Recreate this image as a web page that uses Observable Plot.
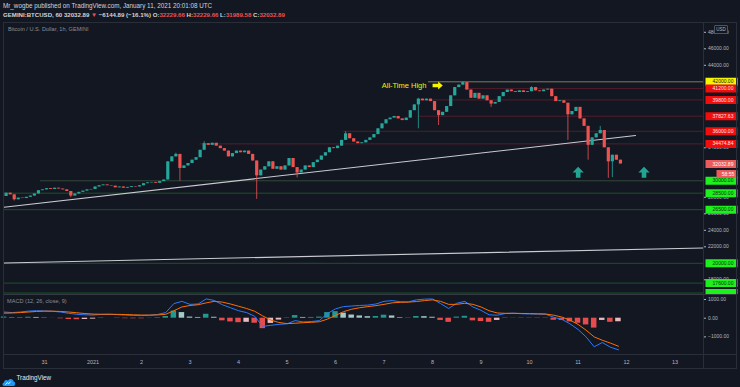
<!DOCTYPE html>
<html><head><meta charset="utf-8">
<script src="https://cdn.jsdelivr.net/npm/d3@7"></script>
<script src="https://cdn.jsdelivr.net/npm/@observablehq/plot@0.6"></script>
<style>
html,body{margin:0;padding:0;background:#131722;}
#wrap{position:relative;width:740px;height:387px;overflow:hidden;background:#131722;font-family:"Liberation Sans",Arial,sans-serif;}
.t{position:absolute;white-space:nowrap;}
.ln{position:absolute;background:#2a2e39;}
#wrap svg{position:absolute;left:0;overflow:hidden;}
.red{color:#f0514f;}
</style></head><body><div id="wrap"></div>
<script>
// ---------------- DATA ----------------
const publisher = "Mr_wogbe published on TradingView.com, January 11, 2021 20:01:08 UTC";
const symbolTitle = "GEMINI:BTCUSD, 60";
const lastPrice = 32032.89;
const change = "−6144.89 (−16.1%)";
const ohlcKeys = ["O", "H", "L", "C"];
const ohlcVals = [32229.66, 32229.66, 31989.58, 32032.89];
const paneLegend = "Bitcoin / U.S. Dollar, 1h, GEMINI";
const macdLegend = "MACD (12, 26, close, 9)";
const countdown = "58:55";

// 2-hour candles starting 2020-12-30 04:00 UTC (open of first bar, then closes)
const barStart = "2020-12-30T04:00Z";
const firstOpen = 28100;
const closes = [
  28500, 28300, 27700, 27900, 27850, 28000, 28150, 28400, 28800, 28900,
  29050, 28950, 29100, 29000, 28900, 28700, 28150, 28400, 28600, 28750, 28900, 28950,
  29250, 29400, 29500, 29400, 29350, 29150, 29250, 29100, 29200, 29300, 29250, 29400,
  29650, 29750, 29800, 29700, 29900, 30100, 32300, 32900, 33200, 31500, 31800, 32100,
  32500, 32800, 33700, 34500, 34300, 34550, 34200, 33900, 33600, 32900, 33300, 33600,
  33400, 33600, 33200, 32400, 30600, 31300, 31700, 32300, 31400, 31700, 31300, 31800,
  32700, 31600, 30950, 31300, 31800, 31600, 32200, 32500, 33000, 33400, 34000, 33900,
  34200, 34900, 35700, 35100, 34700, 34500, 34600, 34900, 35200, 35600, 36300, 36900,
  37400, 37600, 37800, 37500, 37300, 37600, 38500, 39200, 39900, 39700, 39900, 39600,
  38500, 37900, 38300, 39000, 40300, 41300, 41600, 41900, 41000, 40000, 40600, 39900,
  40300, 39700, 39300, 39500, 40200, 40700, 41000, 40800, 40700, 40900, 40700, 40800,
  41300, 40900, 40800, 41000, 41100, 40200, 39600, 39700, 39400, 38000, 38400, 38900,
  37500, 36600, 34300, 35200, 35700, 36100, 34000, 32300, 33100, 32500, 32032.89
];
// notable wicks: [bar index, low, high]
const wicks = [
  [2, 27550, null], [16, 27950, null], [42, null, 33350], [43, 29950, null],
  [49, null, 34750], [62, 27750, null], [72, 30350, null], [84, null, 35950],
  [102, 36300, 40000], [107, 36700, null], [113, null, 41990], [120, 38900, null],
  [130, null, 41400], [139, 34900, null], [144, 32500, null], [147, null, 36600],
  [149, 30300, null], [150, 30400, null]
];

// horizontal levels drawn on the chart
const levelPrices = [42000, 41200, 39800, 37827.63, 36000, 34474.84, 30000, 28500, 26500, 20000, 17600, 16400];
const levelFrom = ["2021-01-07T22:00Z", "2021-01-08T16:00Z", "2021-01-07T17:00Z", "2021-01-07T17:00Z",
  "2021-01-06T04:00Z", "2021-01-03T05:00Z", "2020-12-30T22:00Z", "2020-12-30T04:00Z",
  "2020-12-30T04:00Z", "2020-12-30T04:00Z", "2020-12-30T04:00Z", "2020-12-30T04:00Z"];
const levelKind = ["ath", "res", "res", "res", "res", "res", "mid", "sup", "sup", "sup", "sup", "sup"];
const levelLabelShown = [true, true, true, true, true, true, true, true, true, true, true, false];

// trendlines [time, price]
const trendNames = ["rising", "long"];
const trendStart = [["2020-12-30T03:54Z", 26800], ["2020-12-30T04:00Z", 20040]];
const trendEnd = [["2021-01-12T04:30Z", 35490], ["2021-01-13T14:00Z", 21860]];

// annotations
const athText = "All-Time High";
const athTextAt = ["2021-01-07T21:00Z", 41520];
const athArrowAt = ["2021-01-08T02:30Z", 41550];
const upArrowsAt = [["2021-01-11T00:05Z", 31010], ["2021-01-12T08:40Z", 31010]];

// price axis ticks (those fully hidden behind level labels are left out)
const priceTicks = [18000, 22000, 24000, 26000, 28000, 34000, 44000, 46000, 48000];
const macdTicks = [-1000, 0, 1000];

// MACD (4-hour steps from 2020-12-30 04:00 UTC)
const macdStart = "2020-12-30T04:00Z";
const macdLine = [
  330, 300, 330, 380, 400, 390, 370, 330, 260, 210, 180, 170, 200, 210, 190, 170,
  150, 140, 160, 200, 300, 780, 900, 740, 760, 1030, 950, 720, 560, 400, 300, 100,
  -440, -380, -330, -300, -130, -200, -180, -130, 250, 500, 620, 650, 680, 700, 760, 900,
  940, 880, 870, 980, 1020, 1030, 780, 520, 800, 900, 600, 420, 180, 160, 250, 270,
  240, 230, 220, 210, 50, -60, -300, -600, -1000, -1530, -1300, -1550, -1690
];
const signalLine = [
  270, 280, 300, 330, 360, 375, 375, 360, 330, 290, 250, 220, 210, 210, 205, 195,
  180, 170, 165, 175, 210, 400, 600, 680, 720, 820, 900, 860, 760, 640, 520, 370,
  120, -100, -230, -290, -270, -240, -220, -190, -50, 150, 350, 480, 560, 620, 670, 740,
  820, 850, 860, 890, 940, 980, 900, 740, 740, 800, 740, 600, 400, 280, 260, 260,
  255, 245, 235, 225, 160, 60, -100, -330, -640, -1000, -1180, -1330, -1500
];

// time axis
const dayTickDates = ["2020-12-31", "2021-01-01", "2021-01-02", "2021-01-03", "2021-01-04", "2021-01-05",
  "2021-01-06", "2021-01-07", "2021-01-08", "2021-01-09", "2021-01-10", "2021-01-11", "2021-01-12", "2021-01-13"];
const dayTickLabels = ["31", "2021", "2", "3", "4", "5", "6", "7", "8", "9", "10", "11", "12", "13"];

// ---------------- BUILD ----------------
const HOUR = 3600e3;
const jan1 = Date.UTC(2021, 0, 1);
const atHour = h => new Date(jan1 + h * HOUR);
const xDomain = [atHour(-44.05), atHour(302.1)];
const up = "#26a69a", down = "#ef5350";

const t0 = new Date(barStart).getTime();
const bars = closes.map((c, i) => {
  const open = i ? closes[i - 1] : firstOpen;
  return {t: new Date(t0 + (i * 2 + 1) * HOUR), open, close: c,
    low: Math.min(open, c), high: Math.max(open, c), col: c >= open ? up : down};
});
wicks.forEach(([i, lo, hi]) => { if (lo != null) bars[i].low = lo; if (hi != null) bars[i].high = hi; });

const kindStyle = {
  ath: {line: "#8a8660", box: "#f5f500", ink: "#131722"},
  res: {line: "#5a1e2a", box: "#f20d0d", ink: "#ffe6e6"},
  mid: {line: "#36503c", box: "#1ef01e", ink: "#0c2a0c"},
  sup: {line: "#1d5a27", box: "#1ef01e", ink: "#0c2a0c"}
};
const levels = levelPrices.map((p, i) => ({price: p, from: new Date(levelFrom[i]), shown: levelLabelShown[i],
  line: kindStyle[levelKind[i]].line, box: kindStyle[levelKind[i]].box, ink: kindStyle[levelKind[i]].ink}));

const trendPts = [];
trendNames.forEach((n, i) => {
  trendPts.push({name: n, t: new Date(trendStart[i][0]), price: trendStart[i][1]});
  trendPts.push({name: n, t: new Date(trendEnd[i][0]), price: trendEnd[i][1]});
});

const boxSym = (x0, w, h) => ({draw(c) { c.rect(x0, -h / 2, w, h); }});
const arrowRight = {draw(c) {
  c.moveTo(-5, -1.7); c.lineTo(0.6, -1.7); c.lineTo(0.6, -3.9); c.lineTo(5.2, 0);
  c.lineTo(0.6, 3.9); c.lineTo(0.6, 1.7); c.lineTo(-5, 1.7); c.closePath(); }};
const arrowUp = {draw(c) {
  c.moveTo(0, -5.6); c.lineTo(5.6, 0); c.lineTo(2.3, 0); c.lineTo(2.3, 5.4);
  c.lineTo(-2.3, 5.4); c.lineTo(-2.3, 0); c.lineTo(-5.6, 0); c.closePath(); }};

const font = "'Liberation Sans', Arial, sans-serif";
const baseStyle = {fontFamily: font, fontSize: "5px", color: "#b2b5be", background: "none", overflow: "hidden"};

const main = Plot.plot({
  width: 740, height: 271,
  marginLeft: 3.5, marginRight: 37, marginTop: 0, marginBottom: 0,
  x: {type: "utc", domain: xDomain, axis: null},
  y: {domain: [16218, 49067], axis: null, label: null},
  color: {type: "identity"},
  style: baseStyle,
  marks: [
    Plot.axisY({anchor: "right", ticks: priceTicks, tickFormat: d => d.toFixed(2), tickSize: 2, tickPadding: 2.5, label: null, fontSize: 5}),
    Plot.ruleY(levels, {y: "price", x1: "from", x2: () => xDomain[1], stroke: "line", strokeWidth: 0.9, clip: true}),
    Plot.line(trendPts, {x: "t", y: "price", z: "name", stroke: "#c9cbd1", strokeWidth: 1.1, clip: true}),
    Plot.ruleX(bars, {x: "t", y1: "low", y2: "high", stroke: "col", strokeWidth: 0.8}),
    Plot.ruleX(bars, {x: "t", y1: "open", y2: "close", stroke: "col", strokeWidth: 3.2}),
    Plot.text([athText], {x: () => new Date(athTextAt[0]), y: () => athTextAt[1], text: d => d, textAnchor: "end", fill: "#f0f000", fontSize: 7.5}),
    Plot.dot([athArrowAt], {x: d => new Date(d[0]), y: d => d[1], symbol: arrowRight, fill: "#f5f500", stroke: "none"}),
    Plot.dot(upArrowsAt, {x: d => new Date(d[0]), y: d => d[1], symbol: arrowUp, fill: "#22a393", stroke: "none"}),
    Plot.dot(levels, {y: "price", frameAnchor: "right", symbol: boxSym(2, 32, 8), fill: "box", stroke: "none"}),
    Plot.text(levels.filter(d => d.shown), {y: "price", frameAnchor: "right", textAnchor: "middle", dx: 19.5, text: d => d.price.toFixed(2), fill: "ink", fontSize: 5}),
    Plot.dot([lastPrice], {y: d => d, frameAnchor: "right", symbol: boxSym(2, 32, 8), fill: "#ec5b5b", stroke: "none"}),
    Plot.text([lastPrice], {y: d => d, frameAnchor: "right", textAnchor: "middle", dx: 19.5, text: d => d.toFixed(2), fill: "#ffffff", fontSize: 5}),
    Plot.dot([lastPrice], {y: d => d, frameAnchor: "right", dy: 10, symbol: boxSym(13, 21, 8), fill: "#ec5b5b", stroke: "none"}),
    Plot.text([countdown], {y: () => lastPrice, frameAnchor: "right", textAnchor: "middle", dx: 24.5, dy: 10, text: d => d, fill: "#ffffff", fontSize: 5})
  ]
});
main.style.top = "23px";

const t4 = new Date(macdStart).getTime();
const macd = macdLine.map((m, k) => {
  const s = signalLine[k], h = m - s;
  const ph = k ? macdLine[k - 1] - signalLine[k - 1] : h;
  const col = h >= 0 ? (h >= ph ? "#26a69a" : "#b2dfdb") : (h <= ph ? "#ff5252" : "#ffcdd2");
  return {t: new Date(t4 + k * 4 * HOUR), t1: new Date(t4 + (k * 4 - 2) * HOUR), t2: new Date(t4 + (k * 4 + 2) * HOUR), m, s, h, col};
});
const labelByTime = new Map(dayTickDates.map((d, i) => [new Date(d + "T00:00Z").getTime(), dayTickLabels[i]]));

const lower = Plot.plot({
  width: 740, height: 74,
  marginLeft: 3.5, marginRight: 37, marginTop: 0, marginBottom: 15,
  x: {type: "utc", domain: xDomain, axis: null},
  y: {domain: [-1942, 1214], axis: null, label: null},
  color: {type: "identity"},
  style: baseStyle,
  marks: [
    Plot.axisY({anchor: "right", ticks: macdTicks, tickFormat: d => (d < 0 ? "−" + Math.abs(d).toFixed(2) : d.toFixed(2)), tickSize: 2, tickPadding: 2.5, label: null, fontSize: 5}),
    Plot.axisX({anchor: "bottom", ticks: dayTickDates.map(d => new Date(d + "T00:00Z")), tickFormat: d => labelByTime.get(d.getTime()), tickSize: 0, tickPadding: 5.5, label: null, fontSize: 5.5}),
    Plot.rectY(macd, {x1: "t1", x2: "t2", y: "h", fill: "col", insetLeft: 1.3, insetRight: 1.3, fillOpacity: 0.9}),
    Plot.line(macd, {x: "t", y: "m", stroke: "#2979ff", strokeWidth: 1}),
    Plot.line(macd, {x: "t", y: "s", stroke: "#ff6d00", strokeWidth: 1})
  ]
});
lower.style.top = "295px";

const wrap = document.getElementById("wrap");
wrap.appendChild(main);
wrap.appendChild(lower);

function addLine(l, t, w, h, c) {
  const d = document.createElement("div"); d.className = "ln";
  Object.assign(d.style, {left: l + "px", top: t + "px", width: w + "px", height: h + "px"});
  if (c) d.style.background = c;
  wrap.appendChild(d);
}
addLine(3, 22, 734, 1);
addLine(3, 294, 734, 1, "#363a45");
addLine(3, 354, 734, 1);
addLine(3, 368, 734, 1);
addLine(3, 22, 1, 347);
addLine(703, 22, 1, 347);
addLine(736, 22, 1, 347);

function addText(html, left, cy, size, color, extra) {
  const d = document.createElement("div"); d.className = "t";
  d.innerHTML = html;
  Object.assign(d.style, {left: left + "px", top: (cy - size / 2) + "px", fontSize: size + "px", lineHeight: size + "px", color}, extra || {});
  wrap.appendChild(d);
}
addText(publisher, 3, 6, 6.3, "#d1d4dc");
const ohlcHtml = ohlcKeys.map((k, i) => `${k}:<span class="red">${ohlcVals[i].toFixed(2)}</span>`).join(" ");
addText(`${symbolTitle} ${lastPrice.toFixed(2)} <span class="red">▼</span> ${change} ${ohlcHtml}`, 3, 15, 6.1, "#d1d4dc", {fontWeight: "bold"});
addText(paneLegend, 8, 29.5, 5.6, "#8a8d96");
addText(macdLegend, 7, 302, 5.6, "#8a8d96");

// USD badge
const usd = document.createElement("div"); usd.className = "t";
usd.textContent = "USD";
Object.assign(usd.style, {left: "714px", top: "25px", width: "12px", height: "7px", lineHeight: "7px", fontSize: "4.5px", textAlign: "center",
  color: "#b2b5be", background: "#131722", border: "0.5px solid #50535e", borderRadius: "1px"});
wrap.appendChild(usd);

// TradingView logo
const logo = document.createElement("div"); logo.className = "t";
logo.style.left = "2px"; logo.style.top = "373px";
logo.innerHTML = `<svg width="14" height="10" viewBox="0 0 14 10" style="position:static;overflow:visible"><path d="M2 9 C0 9 0 6 2 5.6 C2 3 5 2.5 6 3.8 C7 1 11.5 1.5 11.6 4.6 C13.8 5 13.8 9 11.5 9 Z" fill="#2196f3"/><path d="M3.5 7.6 L5.3 5.6 L6.7 6.8 L8.6 4.6" stroke="#ffffff" stroke-width="0.9" fill="none"/></svg>`;
wrap.appendChild(logo);
addText("TradingView", 16.5, 378, 6.3, "#e8eaf0");
</script>
</body></html>
